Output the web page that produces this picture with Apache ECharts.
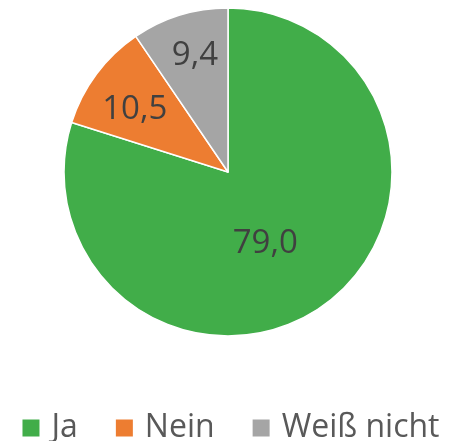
<!DOCTYPE html>
<html>
<head>
<meta charset="utf-8">
<script src="https://cdn.jsdelivr.net/npm/echarts@6/dist/echarts.min.js"></script>
<style>
  html, body { margin: 0; padding: 0; background: #fff; }
  #chart { width: 460px; height: 441px; }
</style>
</head>
<body>
<div id="chart"></div>
<script>
const categories = ["Ja", "Nein", "Weiß nicht"];
const values = [79.0, 10.5, 9.4];
const colors = ["#41AD49", "#ED7D31", "#A5A5A5"];
// Label nudges so small slices sit further out, like the original
const labelOffsets = [[-13, 3], [-25, -12], [-8, -35]];

const chart = echarts.init(document.getElementById("chart"));
chart.setOption({
  animation: false,
  legend: {
    top: 407,
    left: "center",
    itemWidth: 19,
    itemHeight: 19,
    itemGap: 36,
    icon: "rect",
    textStyle: { fontSize: 32, color: "#595959", fontFamily: "Open Sans", padding: [0, 0, 0, 6] },
    data: categories
  },
  series: [{
    type: "pie",
    center: [228, 172],
    radius: [0, 164],
    startAngle: 90,
    clockwise: true,
    itemStyle: { borderColor: "#fff", borderWidth: 1.5 },
    label: {
      position: "inside",
      fontSize: 33,
      color: "#404040",
      fontFamily: "Open Sans",
      formatter: (p) => p.value.toFixed(1).replace(".", ",")
    },
    labelLine: { show: false },
    data: categories.map((name, i) => ({
      name,
      value: values[i],
      itemStyle: { color: colors[i] },
      label: { offset: labelOffsets[i] }
    }))
  }]
});
</script>
</body>
</html>
